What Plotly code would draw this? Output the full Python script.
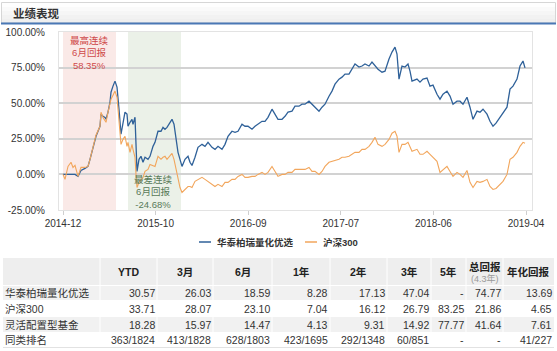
import plotly.graph_objects as go

# ---------------- data ----------------
day = [0, 2, 5, 8, 10, 12, 15, 18, 22, 25, 27, 30, 33, 37, 38, 40, 42, 43, 45, 47,
       48, 50, 52, 54, 55, 56, 58, 60, 62, 64, 65, 67, 69, 70, 72, 73, 74, 76, 78, 80,
       82, 85, 87, 90, 92, 95, 98, 100, 102, 104, 107, 109, 111, 113, 115, 117, 119, 122, 125, 127,
       129, 132, 135, 139, 142, 145, 149, 152, 155, 159, 162, 165, 169, 172, 175, 179, 182, 185, 189, 192,
       195, 199, 202, 205, 209, 212, 215, 219, 222, 225, 229, 232, 236, 239, 242, 246, 249, 252, 256, 259,
       262, 266, 269, 272, 276, 279, 282, 286, 289, 292, 296, 299, 302, 306, 309, 312, 315, 319, 322, 326,
       329, 332, 334, 336, 339, 342, 345, 347, 349, 354, 357, 360, 364, 367, 370, 374, 377, 380, 384, 387,
       390, 394, 397, 400, 404, 407, 410, 414, 417, 420, 424, 427, 430, 433, 437, 440, 444, 447, 450, 454,
       457, 460, 462]

fund = [0, 0, 0, 0, 0, 0, -1.4, 2.8, 4.2, 5.6, 10.6, 19, 26.8, 33.8, 42.3, 40.8, 40, 38.7, 43.7, 50.7,
        57.7, 62, 65.5, 61.3, 55, 45.8, 28.2, 36.6, 43.7, 42.3, 33.8, 36.6, 38.7, 35.2, 40.1, 21.1, 2.1, 10.6, 12.7, 8.5,
        12, 10.6, 12.7, 19.7, 22.5, 30.3, 30.3, 33, 31.7, 33, 36, 38.7, 35.2, 24.6, 15.5, 10.6, 5.6, 10.6, 12.7, 8.5,
        6.3, 12, 19, 21.1, 19.7, 22.5, 19, 17.6, 19.7, 17.6, 21.1, 26.8, 30.3, 29.6, 30.3, 35.2, 33.8, 33.8, 31.7, 33.8,
        35.2, 37.3, 37.3, 40.1, 45.8, 42.3, 38.7, 38.7, 40.8, 43.7, 44.4, 47.9, 47.9, 49.3, 49.3, 51.4, 49.3, 47.2, 44.4, 47.2,
        49.3, 54.9, 58.5, 63.4, 66.9, 68.3, 70.4, 70.4, 73.9, 77.5, 75.4, 76.1, 77.5, 76.1, 78.9, 76.1, 73.9, 71.8, 72.5, 81,
        85.9, 89.4, 84.5, 66.9, 76.1, 75.4, 77.5, 72.5, 65.5, 66.9, 64.8, 66.9, 67.6, 62, 62.7, 56.3, 52.8, 56.3, 58.5, 55,
        49.3, 51.4, 51.4, 49.3, 54.2, 47.2, 38.7, 44.4, 43.7, 45.8, 42.3, 37.3, 33.8, 36, 40.1, 42.3, 47.2, 59.9, 62, 66.9,
        76.1, 79.6, 74.77]

hs300 = [0, -3.5, 5.6, 8.5, 4.9, 6.3, -1.4, 4.9, 4.9, 5.6, 10.6, 19.7, 27.5, 33.8, 43.7, 40, 38, 36.6, 43.7, 50,
         52.8, 55.6, 58.5, 54.2, 47.2, 40.1, 21.1, 24.6, 26.8, 19.7, 22.5, 15.5, 21.1, 17.6, 12, 0, -9.2, -5.6, -3.5, -2.1,
         2.1, 3.5, 7, 6.3, 5.6, 12.7, 10.6, 12, 12.7, 10.6, 13.4, 14.8, 10.6, 3.5, -4.2, -9.2, -12.7, -10.6, -8.5, -8.5,
         -9.2, -4.9, -3.5, -2.1, -3.5, -4.9, -7, -8.5, -7, -8.5, -5.6, -5.6, -3.5, -3.5, -1.4, 0, -2.1, -2.1, -1.4, -1.4,
         0, 1.4, 0, 1.4, 5.6, 2.1, -1.4, 0, 0, 1.4, 1.4, 3.5, 3.5, 3.5, 3.5, 4.9, 2.1, 2.1, 0, 2.1,
         5.6, 8.5, 9.2, 9.9, 10.6, 12, 12, 12.7, 14.1, 15.5, 15.5, 17.6, 17.6, 19.7, 22.5, 26.1, 21.1, 19.7, 21.1, 24.6,
         28.9, 30.3, 26.8, 15.5, 21.1, 21.1, 22.5, 19.7, 16.2, 17.6, 14.1, 14.1, 16.2, 14.1, 12, 9.2, 1.4, 3.5, 5.6, 2.1,
         -1.4, 1.4, 0, -2.1, 2.8, -5.6, -9.2, -4.9, -5.6, -4.9, -3.5, -8.5, -10.6, -9.9, -7, -4.9, 0, 10.6, 12, 15.5,
         19.7, 22.5, 21.86]

fund_name = "华泰柏瑞量化优选"
index_name = "沪深300"
tick_labels = ["2014-12", "2015-10", "2016-09", "2017-07", "2018-06", "2019-04"]
y_ticks = [-25, 0, 25, 50, 75, 100]

best_span = [0, 53]
worst_span = [65, 118]
best_label = ["最高连续", "6月回报", "58.35%"]
worst_label = ["最差连续", "6月回报", "-24.68%"]

title_text = "业绩表现"

table_cols = ["YTD", "3月", "6月", "1年", "2年", "3年", "5年", "总回报", "年化回报"]
total_sub = "(4.3年)"
row_names = ["华泰柏瑞量化优选", "沪深300", "灵活配置型基金", "同类排名"]
row_fund = ["30.57", "26.03", "18.59", "8.28", "17.13", "47.04", "-", "74.77", "13.69"]
row_hs300 = ["33.71", "28.07", "23.10", "7.04", "16.12", "26.79", "83.25", "21.86", "4.65"]
row_flex = ["18.28", "15.97", "14.47", "4.13", "9.31", "14.92", "77.77", "41.64", "7.61"]
row_rank = ["363/1824", "413/1828", "628/1803", "423/1695", "292/1348", "60/851", "-", "-", "41/227"]
table_rows = [row_fund, row_hs300, row_flex, row_rank]

# ---------------- style ----------------
W, H = 557, 351
ML, MR, MT, MB = 59, 25, 32, 141
PW, PH = W - ML - MR, H - MT - MB
BLUE = "#2f6199"
ORANGE = "#f2a65c"
FONT = "Liberation Sans, Noto Sans CJK SC, sans-serif"
TXT = "#333333"


def PX(x):
    return (x - ML) / PW


def PY(y):
    return (MT + PH - y) / PH


def note(x, y, text, size, color, xanchor="center", xref="paper"):
    return dict(xref=xref, yref="paper", x=x, y=y, text=text, showarrow=False,
                xanchor=xanchor, yanchor="middle", borderpad=0,
                font=dict(family=FONT, size=size, color=color))


fig = go.Figure()
fig.add_trace(go.Scatter(x=day, y=fund, mode="lines", name=fund_name,
                         line=dict(color=BLUE, width=1.3), showlegend=False))
fig.add_trace(go.Scatter(x=day, y=hs300, mode="lines", name=index_name,
                         line=dict(color=ORANGE, width=1.1), showlegend=False))

shapes = []
annotations = []

# shaded spans
shapes.append(dict(type="rect", xref="x", yref="y domain", x0=best_span[0], x1=best_span[1],
                   y0=0, y1=1, fillcolor="#fae9e7", line=dict(width=0), layer="below"))
shapes.append(dict(type="rect", xref="x", yref="y domain", x0=worst_span[0], x1=worst_span[1],
                   y0=0, y1=1, fillcolor="#ebf1e8", line=dict(width=0), layer="below"))

annotations.append(note((best_span[0] + best_span[1]) / 2, PY(53), "<br>".join(best_label),
                        9.5, "#cf4a4a", xref="x"))
annotations.append(note((worst_span[0] + worst_span[1]) / 2 - 1, PY(192), "<br>".join(worst_label),
                        9.5, "#587a58", xref="x"))

# title bar
bands = ["#fefefe", "#fafafa", "#f6f6f6", "#f2f2f2", "#efefef"]
y0 = 3
for i, c in enumerate(bands):
    shapes.append(dict(type="rect", xref="paper", yref="paper", x0=PX(1.5), x1=PX(555.5),
                       y0=PY(y0 + i * 4), y1=PY(y0 + (i + 1) * 4), fillcolor=c,
                       line=dict(width=0), layer="below"))
shapes.append(dict(type="rect", xref="paper", yref="paper", x0=PX(1.5), x1=PX(555.5),
                   y0=PY(2.5), y1=PY(23), fillcolor="rgba(0,0,0,0)",
                   line=dict(color="#d6d6d6", width=1)))
shapes.append(dict(type="line", xref="paper", yref="paper", x0=PX(1), x1=PX(556),
                   y0=PY(23.5), y1=PY(23.5), line=dict(color="#4a78b5", width=2)))
annotations.append(note(PX(12), PY(13.5), "<b>" + title_text + "</b>", 11.5, TXT, xanchor="left"))

# legend (manual)
for (lx0, tx, name, col) in [(199, 216, fund_name, BLUE), (305, 322, index_name, ORANGE)]:
    shapes.append(dict(type="line", xref="paper", yref="paper", x0=PX(lx0), x1=PX(lx0 + 12),
                       y0=PY(242), y1=PY(242), line=dict(color=col, width=1.5)))
    annotations.append(note(PX(tx), PY(242), "<b>" + name + "</b>", 9.5, TXT, xanchor="left"))

# table
col_edges = [3, 100, 157, 213, 272, 330, 387, 431, 466, 503, 554]
head_top, head_bot = 258, 285
row_bounds = [(285, 300), (300, 316), (316, 332), (332, 347)]
shapes.append(dict(type="rect", xref="paper", yref="paper", x0=PX(col_edges[0]), x1=PX(col_edges[-1]),
                   y0=PY(head_top), y1=PY(head_bot), fillcolor="#eeeeee", line=dict(width=0), layer="below"))
for i, (a, b) in enumerate(row_bounds):
    if i % 2 == 0:
        shapes.append(dict(type="rect", xref="paper", yref="paper", x0=PX(col_edges[0]),
                           x1=PX(col_edges[-1]), y0=PY(a + 1), y1=PY(b), fillcolor="#f1f1f1",
                           line=dict(width=0), layer="below"))
for e in col_edges[1:-1]:
    shapes.append(dict(type="line", xref="paper", yref="paper", x0=PX(e), x1=PX(e),
                       y0=PY(head_top), y1=PY(row_bounds[-1][1]), line=dict(color="#ffffff", width=1)))
shapes.append(dict(type="line", xref="paper", yref="paper", x0=PX(col_edges[0]), x1=PX(col_edges[-1]),
                   y0=PY(347.5), y1=PY(347.5), line=dict(color="#e2e2e2", width=1)))

for j, cname in enumerate(table_cols):
    cx = (col_edges[j + 1] + col_edges[j + 2]) / 2
    if cname == "总回报":
        annotations.append(note(PX(cx), PY(266.5), "<b>" + cname + "</b>", 10.5, "#222222"))
        annotations.append(note(PX(cx), PY(278.5), total_sub, 9, "#999999"))
    else:
        annotations.append(note(PX(cx), PY(272), "<b>" + cname + "</b>", 10.5, "#222222"))

for i, (name, vals) in enumerate(zip(row_names, table_rows)):
    cy = (row_bounds[i][0] + row_bounds[i][1]) / 2 + 0.5
    annotations.append(note(PX(col_edges[0] + 1), PY(cy), name, 10.5, TXT, xanchor="left"))
    for j, v in enumerate(vals):
        annotations.append(note(PX(col_edges[j + 2] - 1.5), PY(cy), v, 10.5, TXT, xanchor="right"))

fig.update_layout(
    width=W, height=H, autosize=False,
    margin=dict(l=ML, r=MR, t=MT, b=MB, pad=0, autoexpand=False),
    paper_bgcolor="white", plot_bgcolor="white",
    font=dict(family=FONT, size=10, color=TXT),
    shapes=shapes, annotations=annotations,
    xaxis=dict(range=[-4, 469], tickmode="array", automargin=False,
               tickvals=[i * day[-1] / (len(tick_labels) - 1) + i * 0.2 for i in range(len(tick_labels))],
               ticktext=tick_labels, showgrid=False, zeroline=False,
               showline=True, mirror=True, linecolor="#e3e3e3", linewidth=1,
               ticks="outside", ticklen=4, tickcolor="#cfcfcf",
               tickfont=dict(family=FONT, size=10, color=TXT)),
    yaxis=dict(range=[-25, 100], tickmode="array", tickvals=y_ticks, automargin=False,
               ticktext=[f"{v:.2f}%" for v in y_ticks], showgrid=True, gridcolor="#d2d2d2",
               gridwidth=1.5, zeroline=False, showline=True, mirror=True, linecolor="#e3e3e3",
               linewidth=1, ticks="", ticklabelstandoff=11,
               tickfont=dict(family=FONT, size=10, color=TXT)),
)

fig.write_html("out.html")
